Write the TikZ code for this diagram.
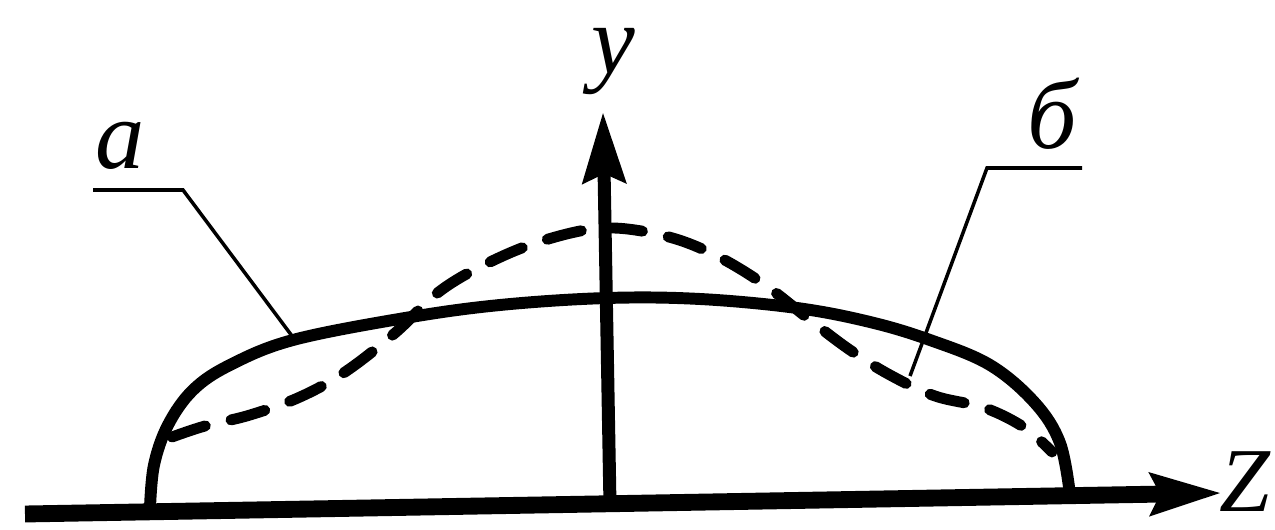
\documentclass[tikz,border=0pt]{standalone}
\usepackage{fontspec}
\setmainfont{Liberation Serif}
\usetikzlibrary{arrows.meta}
\tikzset{
  solidcurve/.style={line width=6.8pt, line cap=round, line join=round},
  dashcurve/.style={line width=6.2pt, line cap=round, dash pattern=on 20pt off 15pt},
  leader/.style={line width=2pt},
  lab/.style={inner sep=0pt, font=\fontsize{56}{56}\selectfont\itshape},
}
\begin{document}
\begin{tikzpicture}[x=0.02cm,y=-0.02cm]
\useasboundingbox (0,0) rectangle (1275,530);
% axes
\coordinate (zl) at (25,514);
\coordinate (zr) at (1222,493);
\coordinate (yb) at (610,505);
\coordinate (yt) at (603,112);
\draw[line width=9.6pt, -{Stealth[length=40pt,width=23pt,inset=5pt]}] (zl) -- (zr);
\draw[line width=7.4pt, -{Stealth[length=40pt,width=24pt,inset=5pt]}] (yb) -- (yt);
% solid curve
\draw[solidcurve] plot[smooth, tension=0.6] coordinates {
 (150,508) (154,465) (168,425) (193,390) (230,365) (293,340) (405,318) (500,305) (607,298)
 (700,299) (797,308) (870,322) (930,340) (990,365) (1035,403) (1060,443) (1070,495)};
% dashed curve
\draw[dashcurve] plot[smooth, tension=0.6] coordinates {
 (172,437) (205,426) (250,415) (300,397) (345,372) (395,333) (440,291) (490,262)
 (545,240) (605,228) (665,236) (715,255) (765,285) (810,320) (850,350) (890,375)
 (935,396) (985,408) (1025,428) (1052,452)};
% labels
\node[lab] (la) at (120,146) {а};
\node[lab] (lb) at (1052,114) {б};
\node[lab, font=\fontsize{56}{56}\selectfont\itshape] (ly) at (613,62) {y};
\node[lab, font=\fontsize{52}{52}\selectfont\itshape] (lz) at (1245,482) {Z};
% leaders
\coordinate (a1) at (93,190);
\coordinate (a2) at (183,190);
\coordinate (a3) at (295,340);
\coordinate (b1) at (1082,168);
\coordinate (b2) at (987,168);
\coordinate (b3) at (910,376);
\draw[leader] (a1) -- (a2) -- (a3);
\draw[leader] (b1) -- (b2) -- (b3);
\end{tikzpicture}
\end{document}
